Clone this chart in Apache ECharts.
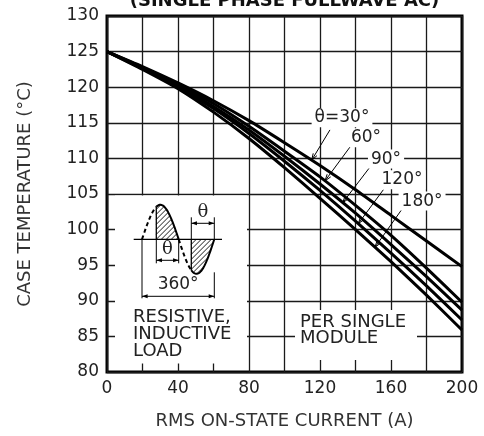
<!DOCTYPE html>
<html><head><meta charset="utf-8">
<script src="https://cdn.jsdelivr.net/npm/echarts@6/dist/echarts.min.js"></script>
<style>html,body{margin:0;padding:0;background:#fff}#c{width:484px;height:436px}</style>
</head><body><div id="c"></div>
<script>
// ---- data ----
const current  = [0, 20, 40, 60, 80, 100, 120, 140, 160, 180, 200];
const theta30  = [125, 122.9, 120.6, 118.1, 115.3, 112.2, 109.0, 105.6, 102.0, 98.4, 94.8];
const theta60  = [125, 122.8, 120.4, 117.7, 114.5, 111.0, 107.4, 103.4, 99.2, 94.6, 89.8];
const theta90  = [125, 122.7, 120.2, 117.3, 114.0, 110.3, 106.4, 102.3, 97.9, 93.4, 88.7];
const theta120 = [125, 122.6, 120.0, 117.0, 113.5, 109.6, 105.5, 101.2, 96.7, 92.1, 87.3];
const theta180 = [125, 122.5, 119.8, 116.5, 112.8, 108.7, 104.4, 100.0, 95.5, 90.8, 85.9];
const xTickLabels = [0, 40, 80, 120, 160, 200];
const yTickLabels = [80, 85, 90, 95, 100, 105, 110, 115, 120, 125, 130];
const seriesNames = ['θ=30°', '60°', '90°', '120°', '180°'];
const seriesData = [theta30, theta60, theta90, theta120, theta180];
// label annotation anchors (data units): label centre, leader start, leader tip current
const labelCenter = [[132.4, 115.7], [145.9, 112.9], [157.2, 109.9], [166.2, 107.0], [177.5, 104.0]];
const leaderStart = [[125.6, 114.0], [136.9, 111.6], [148.2, 108.8], [155.7, 105.6], [166.0, 102.8]];
const leaderTipA  = [115.3, 122.8, 132.8, 141.6, 151.0];

const FONT = '"DejaVu Sans", sans-serif';
const INK = '#222';
const chart = echarts.init(document.getElementById('c'), null, {renderer: 'canvas'});

chart.setOption({
  animation: false,
  backgroundColor: '#fff',
  grid: {left: 107, top: 16, width: 355, height: 356, show: true, borderColor: '#000', borderWidth: 3, backgroundColor: 'transparent'},
  xAxis: {
    type: 'value', min: 0, max: 200, interval: 20,
    axisLine: {show: false}, axisTick: {show: false},
    splitLine: {show: true, lineStyle: {color: '#1a1a1a', width: 1.3}},
    axisLabel: {formatter: v => xTickLabels.includes(v) ? String(v) : '', color: INK, fontSize: 17, fontFamily: FONT, margin: 8},
    name: 'RMS ON-STATE CURRENT (A)', nameLocation: 'middle', nameGap: 40,
    nameTextStyle: {color: '#333', fontSize: 18, fontFamily: FONT}
  },
  yAxis: {
    type: 'value', min: 80, max: 130, interval: 5,
    axisLine: {show: false}, axisTick: {show: false},
    splitLine: {show: true, lineStyle: {color: '#1a1a1a', width: 1.3}},
    axisLabel: {formatter: v => yTickLabels.includes(v) ? String(v) : '', color: INK, fontSize: 17, fontFamily: FONT, margin: 8},
    name: 'CASE TEMPERATURE (°C)', nameLocation: 'middle', nameGap: 73, nameRotate: 90,
    nameTextStyle: {color: '#333', fontSize: 18, fontFamily: FONT}
  },
  series: seriesData.map((d, k) => ({
    name: seriesNames[k], type: 'line', symbol: 'none', smooth: 0.2, z: 5,
    data: current.map((c, i) => [c, d[i]]),
    lineStyle: {color: '#000', width: 3}
  }))
});

// ---- annotations ----
const P = (a, t) => chart.convertToPixel({gridIndex: 0}, [a, t]);
function interp(arr, a) {
  for (let i = 0; i < current.length - 1; i++) {
    if (a >= current[i] && a <= current[i + 1]) {
      const f = (a - current[i]) / (current[i + 1] - current[i]);
      return arr[i] + f * (arr[i + 1] - arr[i]);
    }
  }
  return arr[arr.length - 1];
}
const els = [];
const line = (x1, y1, x2, y2, w, extra) => els.push({type: 'line', z: 60, shape: {x1, y1, x2, y2}, style: Object.assign({stroke: '#000', lineWidth: w || 1}, extra || {})});
const openHead = (tx, ty, fx, fy, len, ang) => {
  const a = Math.atan2(fy - ty, fx - tx);
  [ang, -ang].forEach(d => line(tx, ty, tx + len * Math.cos(a + d), ty + len * Math.sin(a + d), 1));
};
const filledHead = (tx, ty, fx, fy) => {
  const a = Math.atan2(fy - ty, fx - tx), L = 6, W = 0.35;
  els.push({type: 'polygon', z: 60, shape: {points: [[tx, ty], [tx + L * Math.cos(a + W), ty + L * Math.sin(a + W)], [tx + L * Math.cos(a - W), ty + L * Math.sin(a - W)]]}, style: {fill: '#000'}});
};
const text = (str, x, y, opt) => els.push({type: 'text', z: 70, x, y, style: Object.assign({text: str, fill: INK, font: '17px ' + FONT, align: 'center', verticalAlign: 'middle'}, opt || {})});

// title (cropped at top)
const [pl, pb] = P(0, 80);
const [pr, pt] = P(200, 130);
text('(SINGLE PHASE FULLWAVE AC)', (pl + pr) / 2, 10, {font: 'bold 18px ' + FONT, verticalAlign: 'bottom', fill: '#111'});

// white panels
els.push({type: 'rect', z: 40, shape: {x: pl + 8, y: pb - 176.5, width: 132, height: 168}, style: {fill: '#fff'}});
els.push({type: 'rect', z: 40, shape: {x: pl + 188, y: pb - 62, width: 122, height: 50}, style: {fill: '#fff'}});
text('PER SINGLE\nMODULE', pl + 193, pb - 58, {align: 'left', verticalAlign: 'top', lineHeight: 16.5, font: '18px ' + FONT});
text('RESISTIVE,\nINDUCTIVE\nLOAD', pl + 26, pb - 63, {align: 'left', verticalAlign: 'top', lineHeight: 17, font: '18px ' + FONT});

// curve labels with leaders
seriesNames.forEach((n, k) => {
  const [cx, cy] = P(labelCenter[k][0], labelCenter[k][1]);
  const [sx, sy] = P(leaderStart[k][0], leaderStart[k][1]);
  const [tx, ty] = P(leaderTipA[k], interp(seriesData[k], leaderTipA[k]));
  line(sx, sy, tx, ty, 1);
  openHead(tx, ty, sx, sy, 7, 0.32);
  text(n, cx, cy, {backgroundColor: '#fff', padding: [1, 3], font: '17px ' + FONT});
});

// inset waveform diagram
const base = pb - 132.7;
const xz1 = pl + 35, xz2 = pl + 71.7, xz3 = pl + 107.3;
const xf1 = pl + 49.3, xf2 = pl + 84.3;
const amp = 34.5;
const hp = x => amp * Math.sin(Math.PI * (x - xz1) / (xz2 - xz1));
const hn = x => amp * Math.sin(Math.PI * (x - xz2) / (xz3 - xz2));
const pts = (x0, x1, f, sgn) => { const r = []; for (let i = 0; i <= 40; i++) { const x = x0 + (x1 - x0) * i / 40; r.push([x, base - sgn * f(x)]); } return r; };
line(pl + 26.7, base, pl + 115, base, 1.3);
els.push({type: 'polyline', z: 60, shape: {points: pts(xz1, xf1, hp, 1)}, style: {stroke: '#000', lineWidth: 2, fill: null, lineDash: [4, 3]}});
els.push({type: 'polyline', z: 60, shape: {points: pts(xf1, xz2, hp, 1)}, style: {stroke: '#000', lineWidth: 2, fill: null}});
els.push({type: 'polyline', z: 60, shape: {points: pts(xz2, xf2, hn, -1)}, style: {stroke: '#000', lineWidth: 2, fill: null, lineDash: [4, 3]}});
els.push({type: 'polyline', z: 60, shape: {points: pts(xf2, xz3, hn, -1)}, style: {stroke: '#000', lineWidth: 2, fill: null}});
line(xf1, base, xf1, base - hp(xf1), 1.3);
line(xf2, base, xf2, base + hn(xf2), 1.3);
// hatching
function hatch(x0, x1, f, sgn) {
  for (let c = x0 - 50; c < x1 + 50; c += 5) {
    let a = null, b = null;
    for (let x = x0; x <= x1; x += 0.2) {
      const h = sgn > 0 ? (x - c) : (c - x);
      if (h >= 0 && h <= f(x)) { if (!a) a = [x, h]; b = [x, h]; }
    }
    if (a && b && b[0] - a[0] > 0.5) line(a[0], base - sgn * a[1], b[0], base - sgn * b[1], 0.9);
  }
}
hatch(xf1, xz2, hp, 1);
hatch(xf2, xz3, hn, -1);
// dimension: theta (bottom)
line(xf1, base, xf1, base + 24, 1); line(xz2, base, xz2, base + 24, 1);
line(xf1, base + 21, xz2, base + 21, 1);
filledHead(xf1, base + 21, xz2, base + 21); filledHead(xz2, base + 21, xf1, base + 21);
text('θ', (xf1 + xz2) / 2, base + 10, {font: '18px "DejaVu Serif", serif'});
// dimension: theta (top)
line(xf2, base - 22, xf2, base, 1); line(xz3, base - 22, xz3, base, 1);
line(xf2, base - 16, xz3, base - 16, 1);
filledHead(xf2, base - 16, xz3, base - 16); filledHead(xz3, base - 16, xf2, base - 16);
text('θ', (xf2 + xz3) / 2, base - 26.5, {font: '18px "DejaVu Serif", serif'});
// dimension: 360°
line(xz1, base, xz1, base + 59, 1); line(xz3, base + 33, xz3, base + 59, 1);
line(xz1, base + 57, xz3, base + 57, 1);
filledHead(xz1, base + 57, xz3, base + 57); filledHead(xz3, base + 57, xz1, base + 57);
text('360°', (xz1 + xz3) / 2, base + 45.2, {font: '17px ' + FONT});

chart.setOption({graphic: {elements: els}});
</script></body></html>
